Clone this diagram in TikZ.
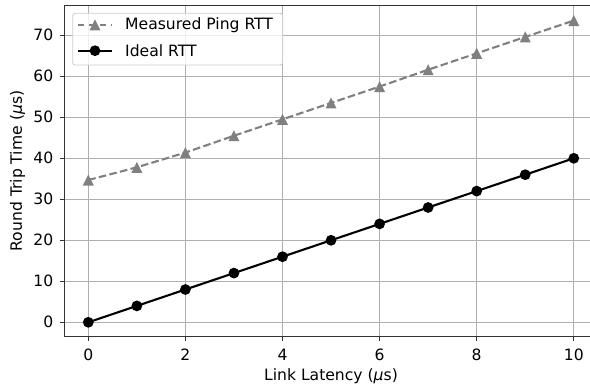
\documentclass[tikz,border=0pt]{standalone}
\usepackage{fontspec}
\setmainfont{DejaVu Sans}
\usetikzlibrary{calc}
\begin{document}
\begin{tikzpicture}[x=1pt,y=-1pt,
  gridline/.style={draw=black!31, line width=0.9pt},
  axisline/.style={draw=black!80, line width=1.1pt},
  tickmark/.style={draw=black!80, line width=1pt},
  ticklab/.style={font=\fontsize{15.6}{18}\selectfont, inner sep=0pt},
  axlab/.style={font=\fontsize{15.6}{18}\selectfont, inner sep=0pt},
  measline/.style={draw=black!50, line width=2.1pt, dash pattern=on 7.6pt off 3.3pt},
  idealline/.style={draw=black, line width=2.1pt},
  dotmark/.style={circle, fill=black, draw=none, minimum size=10.8pt, inner sep=0pt},
  legbox/.style={draw=black!20, fill=white, fill opacity=0.8, rounded corners=2.5pt, line width=0.9pt},
  legtext/.style={font=\fontsize{15.6}{18}\selectfont, anchor=west, inner sep=0pt}
]
\useasboundingbox (0,0) rectangle (590,385);
\begin{scope}
\clip (0,0) rectangle (590,385);
% grid
\foreach \xv in {0,2,4,6,8,10} {
  \draw[gridline] ({88.3+48.55*\xv},5.7) -- ({88.3+48.55*\xv},336.7);
}
\foreach \yv in {0,10,20,30,40,50,60,70} {
  \draw[gridline] (64.3,{322.3-4.1*\yv}) -- (598,{322.3-4.1*\yv});
}
% ticks and labels
\foreach \xv in {0,2,4,6,8,10} {
  \draw[tickmark] ({88.3+48.55*\xv},336.7) -- ({88.3+48.55*\xv},341.5);
  \node[ticklab] (xt\xv) at ({88.3+48.55*\xv},354.5) {\xv};
}
\foreach \yv in {0,10,20,30,40,50,60,70} {
  \draw[tickmark] (64.3,{322.3-4.1*\yv}) -- (59.5,{322.3-4.1*\yv});
  \node[ticklab, anchor=east] (yt\yv) at (53.5,{322.3-4.1*\yv}) {\yv};
}
% axis labels
\node[axlab] (xlab) at (331,376) {Link Latency ({\itshape μ}s)};
\node[axlab, rotate=90] (ylab) at (17.5,171) {Round Trip Time ({\itshape μ}s)};
% data
\foreach \i/\v in {0/34.7,1/37.8,2/41.4,3/45.5,4/49.5,5/53.5,6/57.5,7/61.6,8/65.6,9/69.6,10/73.6} {
  \coordinate (m\i) at ({88.3+48.55*\i},{322.3-4.1*\v});
}
\foreach \i in {0,...,10} {
  \coordinate (p\i) at ({88.3+48.55*\i},{322.3-4.1*4*\i});
}
\draw[measline] (m0) -- (m1) -- (m2) -- (m3) -- (m4) -- (m5) -- (m6) -- (m7) -- (m8) -- (m9) -- (m10);
\foreach \i in {0,...,10} {
  \fill[black!50] ($(m\i)+(0,-5.5)$) -- ($(m\i)+(-5.5,5.5)$) -- ($(m\i)+(5.5,5.5)$) -- cycle;
}
\draw[idealline] (p0) -- (p1) -- (p2) -- (p3) -- (p4) -- (p5) -- (p6) -- (p7) -- (p8) -- (p9) -- (p10);
\foreach \i in {0,...,10} {
  \node[dotmark] (d\i) at (p\i) {};
}
% axes frame
\draw[axisline] (598,5.7) -- (64.3,5.7) -- (64.3,336.7) -- (598,336.7);
\draw[axisline] (598,5.7) -- (598,336.7);
% legend
\path[legbox] (72.7,13.3) rectangle (282.7,65);
\coordinate (la) at (78,25);
\coordinate (lb) at (112,25);
\coordinate (lc) at (78,50.7);
\coordinate (ld) at (112,50.7);
\draw[measline, dash pattern=on 6pt off 5pt] (la) -- (lb);
\fill[black!50] (95,19.5) -- (89.5,30.5) -- (100.5,30.5) -- cycle;
\draw[idealline] (lc) -- (ld);
\node[dotmark] (ldot) at (95,50.7) {};
\node[legtext] (lt1) at (125,25) {Measured Ping RTT};
\node[legtext] (lt2) at (125,50.7) {Ideal RTT};
\end{scope}
\end{tikzpicture}
\end{document}
